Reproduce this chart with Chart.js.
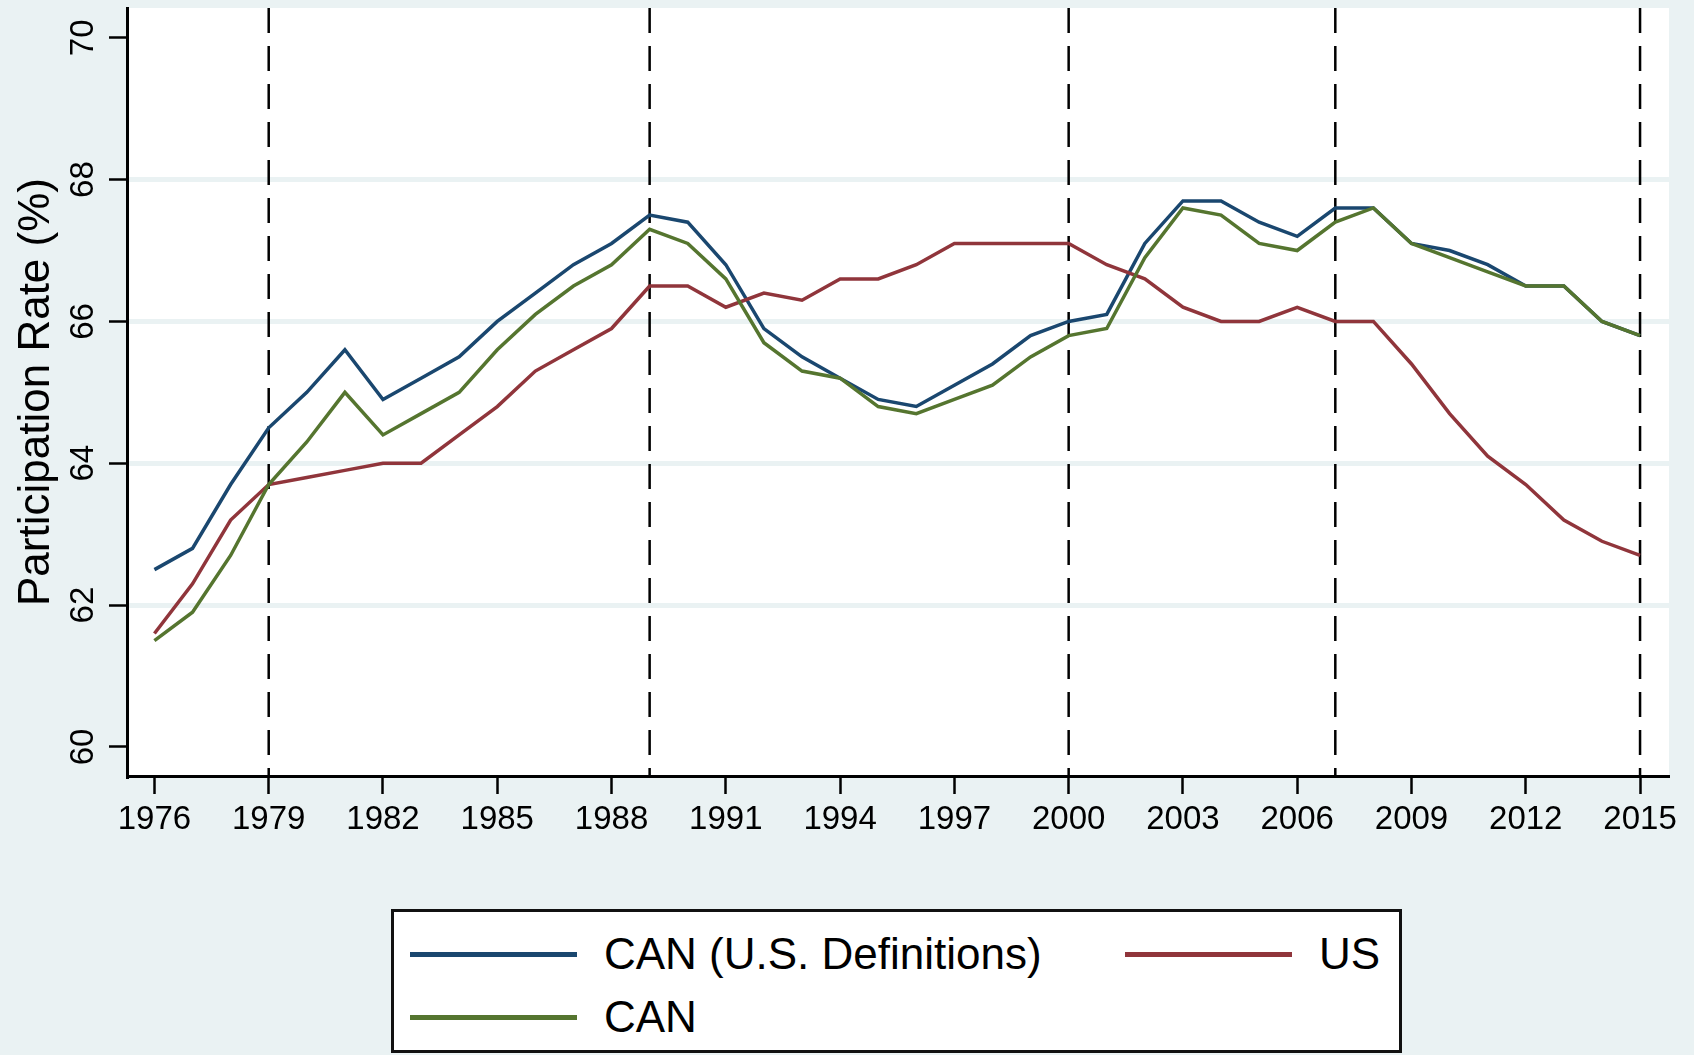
<!DOCTYPE html>
<html lang="en">
<head>
    <meta charset="UTF-8">
    <title>Participation Rate</title>
    <style>
        body {
            margin: 0;
            padding: 0;
            background-color: #eaf2f3;
            font-family: "Liberation Sans", Arial, Helvetica, sans-serif;
        }
        .wrap {
            position: relative;
            width: 1694px;
            height: 1055px;
        }
        #legend-box {
            position: absolute;
            left: 391px;
            top: 909px;
            width: 1011px;
            height: 144px;
            box-sizing: border-box;
            border: 3px solid #111;
            background: #fff;
        }
        .leg-item {
            position: absolute;
            height: 60px;
            display: flex;
            align-items: center;
            font-size: 44px;
            color: #000;
            white-space: nowrap;
        }
        .leg-line {
            display: inline-block;
            width: 167px;
            height: 5px;
            margin-right: 27px;
        }
    </style>
</head>
<body>
<div class="wrap">
    <canvas id="chart" width="1694" height="1055"></canvas>
    <div id="legend-box"></div>
</div>

<script src="https://cdn.jsdelivr.net/npm/chart.js"></script>
<script>
    const years = [1976, 1977, 1978, 1979, 1980, 1981, 1982, 1983, 1984, 1985,
                   1986, 1987, 1988, 1989, 1990, 1991, 1992, 1993, 1994, 1995,
                   1996, 1997, 1998, 1999, 2000, 2001, 2002, 2003, 2004, 2005,
                   2006, 2007, 2008, 2009, 2010, 2011, 2012, 2013, 2014, 2015];

    const canUsDef = [62.5, 62.8, 63.7, 64.5, 65.0, 65.6, 64.9, 65.2, 65.5, 66.0,
                      66.4, 66.8, 67.1, 67.5, 67.4, 66.8, 65.9, 65.5, 65.2, 64.9,
                      64.8, 65.1, 65.4, 65.8, 66.0, 66.1, 67.1, 67.7, 67.7, 67.4,
                      67.2, 67.6, 67.6, 67.1, 67.0, 66.8, 66.5, 66.5, 66.0, 65.8];

    const usRate = [61.6, 62.3, 63.2, 63.7, 63.8, 63.9, 64.0, 64.0, 64.4, 64.8,
                    65.3, 65.6, 65.9, 66.5, 66.5, 66.2, 66.4, 66.3, 66.6, 66.6,
                    66.8, 67.1, 67.1, 67.1, 67.1, 66.8, 66.6, 66.2, 66.0, 66.0,
                    66.2, 66.0, 66.0, 65.4, 64.7, 64.1, 63.7, 63.2, 62.9, 62.7];

    const canRate = [61.5, 61.9, 62.7, 63.7, 64.3, 65.0, 64.4, 64.7, 65.0, 65.6,
                     66.1, 66.5, 66.8, 67.3, 67.1, 66.6, 65.7, 65.3, 65.2, 64.8,
                     64.7, 64.9, 65.1, 65.5, 65.8, 65.9, 66.9, 67.6, 67.5, 67.1,
                     67.0, 67.4, 67.6, 67.1, 66.9, 66.7, 66.5, 66.5, 66.0, 65.8];

    const xTicks = [1976, 1979, 1982, 1985, 1988, 1991, 1994, 1997, 2000, 2003, 2006, 2009, 2012, 2015];
    const yTicks = [60, 62, 64, 66, 68, 70];
    const dashedYears = [1979, 1989, 2000, 2007, 2015];

    const seriesNames = ['CAN (U.S. Definitions)', 'US', 'CAN'];
    const seriesColors = ['#1a476f', '#90353b', '#55752f'];
    const seriesData = [canUsDef, usRate, canRate];

    const fontFamily = '"Liberation Sans", Arial, Helvetica, sans-serif';

    function toPoints(values) {
        return years.map((yr, i) => ({ x: yr, y: values[i] }));
    }

    // white plot region + dashed reference lines
    const plotDecor = {
        id: 'plotDecor',
        beforeDraw(chart) {
            const { ctx, chartArea } = chart;
            ctx.save();
            ctx.fillStyle = '#ffffff';
            ctx.fillRect(chartArea.left, chartArea.top, chartArea.right - chartArea.left, chartArea.bottom - chartArea.top);
            ctx.restore();
        },
        beforeDatasetsDraw(chart) {
            const { ctx, chartArea } = chart;
            const xs = chart.scales.x;
            ctx.save();
            ctx.strokeStyle = '#000';
            ctx.lineWidth = 2.5;
            ctx.setLineDash([25, 13]);
            dashedYears.forEach(yr => {
                const px = xs.getPixelForValue(yr);
                ctx.beginPath();
                ctx.moveTo(px, chartArea.top);
                ctx.lineTo(px, chartArea.bottom);
                ctx.stroke();
            });
            ctx.restore();
        },
        afterDraw(chart) {
            // rotated y tick labels
            const { ctx } = chart;
            const ys = chart.scales.y;
            ctx.save();
            ctx.fillStyle = '#000';
            ctx.font = '33px ' + fontFamily;
            ctx.textAlign = 'center';
            ctx.textBaseline = 'alphabetic';
            yTicks.forEach(v => {
                ctx.save();
                ctx.translate(93, ys.getPixelForValue(v));
                ctx.rotate(-Math.PI / 2);
                ctx.fillText(String(v), 0, 0);
                ctx.restore();
            });
            ctx.restore();
        }
    };

    const ctx = document.getElementById('chart').getContext('2d');
    const chart = new Chart(ctx, {
        type: 'line',
        data: {
            datasets: seriesNames.map((name, i) => ({
                label: name,
                data: toPoints(seriesData[i]),
                borderColor: seriesColors[i],
                backgroundColor: seriesColors[i],
                borderWidth: 3.5,
                pointRadius: 0,
                tension: 0,
                fill: false,
                order: [3, 2, 1][i]
            }))
        },
        options: {
            responsive: false,
            animation: false,
            devicePixelRatio: 1,
            layout: {
                padding: { top: 8, right: 25, bottom: 219, left: 0 }
            },
            plugins: {
                legend: { display: false },
                tooltip: { enabled: false }
            },
            scales: {
                x: {
                    type: 'linear',
                    min: 1975.28,
                    max: 2015.76,
                    afterBuildTicks: scale => {
                        scale.ticks = xTicks.map(v => ({ value: v }));
                    },
                    afterFit: scale => { scale.height = 60; },
                    grid: {
                        drawOnChartArea: false,
                        tickLength: 18,
                        tickColor: '#000',
                        tickWidth: 2.5
                    },
                    border: { display: true, color: '#000', width: 3 },
                    ticks: {
                        color: '#000',
                        padding: 6,
                        maxRotation: 0,
                        autoSkip: false,
                        font: { family: fontFamily, size: 33 },
                        callback: v => String(v)
                    }
                },
                y: {
                    min: 59.59,
                    max: 70.42,
                    afterBuildTicks: scale => {
                        scale.ticks = yTicks.map(v => ({ value: v }));
                    },
                    afterFit: scale => { scale.width = 127; },
                    grid: {
                        color: c => (c.tick && (c.tick.value === 60 || c.tick.value === 70)) ? 'rgba(0,0,0,0)' : '#eaf2f3',
                        lineWidth: 5,
                        tickLength: 18,
                        tickColor: '#000',
                        tickWidth: 2.5
                    },
                    border: { display: true, color: '#000', width: 3 },
                    ticks: { display: false },
                    title: {
                        display: true,
                        text: 'Participation Rate (%)',
                        color: '#000',
                        font: { family: fontFamily, size: 44 },
                        padding: { top: 10, bottom: 0 }
                    }
                }
            }
        },
        plugins: [plotDecor]
    });

    // legend in two columns, built from the series arrays
    const legendPos = [
        { left: 410, top: 924 },
        { left: 1125, top: 924 },
        { left: 410, top: 987 }
    ];
    const wrap = document.querySelector('.wrap');
    seriesNames.forEach((name, i) => {
        const item = document.createElement('div');
        item.className = 'leg-item';
        item.style.left = legendPos[i].left + 'px';
        item.style.top = legendPos[i].top + 'px';
        const line = document.createElement('span');
        line.className = 'leg-line';
        line.style.backgroundColor = seriesColors[i];
        const label = document.createElement('span');
        label.textContent = name;
        item.appendChild(line);
        item.appendChild(label);
        wrap.appendChild(item);
    });
</script>
</body>
</html>
